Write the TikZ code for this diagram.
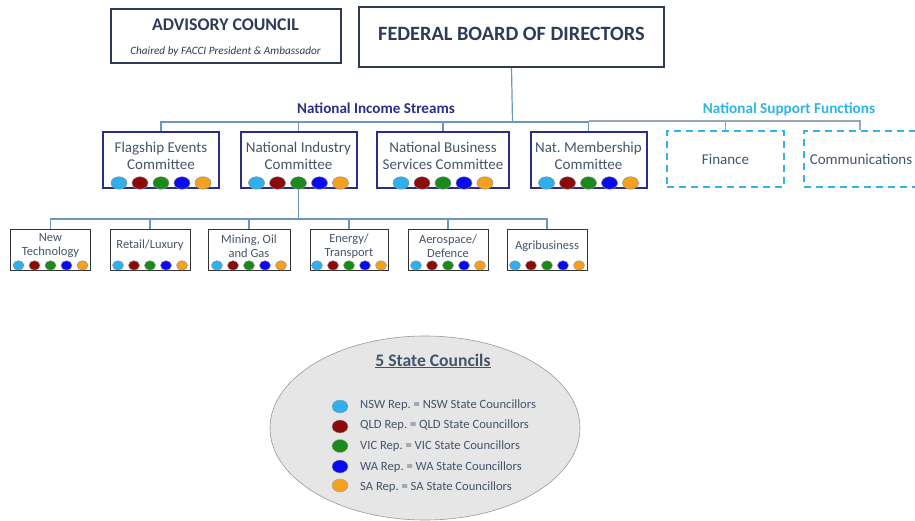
\documentclass[tikz,border=0pt]{standalone}
\usepackage{fontspec}
\setmainfont{Carlito}
\usetikzlibrary{shapes.geometric}
\definecolor{cnsw}{HTML}{2EB0EC}
\definecolor{cqld}{HTML}{8B0A0A}
\definecolor{cvic}{HTML}{1A8A1A}
\definecolor{cwa}{HTML}{0A0AF0}
\definecolor{csa}{HTML}{F5A01E}
\definecolor{navy}{HTML}{2A2E86}
\definecolor{slate}{HTML}{2E3A56}
\definecolor{txt}{HTML}{44546A}
\definecolor{linec}{HTML}{6C97BC}
\definecolor{grayline}{HTML}{9AA6B2}
\definecolor{supp}{HTML}{2EB4E6}
\definecolor{ellfill}{HTML}{E6E6E6}
\frenchspacing
\tikzset{
  topbox/.style={draw=slate, line width=2pt, inner sep=0pt, text=slate},
  combox/.style={draw=navy, line width=2pt, minimum width=116pt, minimum height=56pt, inner sep=0pt},
  comtext/.style={text=txt, font=\fontsize{15}{17}\selectfont, align=center, inner sep=0pt},
  suppbox/.style={draw=supp, line width=1.8pt, dash pattern=on 7pt off 5pt, minimum width=117pt, minimum height=56pt, inner sep=0pt, text=txt, font=\fontsize{15}{17}\selectfont},
  subbox/.style={draw=black!80, line width=0.9pt, minimum width=80pt, minimum height=41pt, inner sep=0pt},
  subtext/.style={text=txt, font=\fontsize{12.5}{14}\selectfont, align=center, inner sep=0pt},
  bigdot/.style={ellipse, draw=black!45, line width=0.5pt, minimum width=16pt, minimum height=12.5pt, inner sep=0pt},
  smalldot/.style={ellipse, draw=black!45, line width=0.4pt, minimum width=11pt, minimum height=9.5pt, inner sep=0pt},
  legdot/.style={ellipse, draw=black!35, line width=0.4pt, minimum width=16pt, minimum height=13pt, inner sep=0pt},
  conn/.style={draw=linec, line width=1.2pt},
  gconn/.style={draw=grayline, line width=1.2pt},
  legtext/.style={anchor=west, text=txt, font=\fontsize{12.6}{14}\selectfont, inner sep=0pt},
}
\newcommand{\reprow}[4]{%
  \foreach \cc [count=\ii] in {cnsw,cqld,cvic,cwa,csa} {%
    \node[#3, fill=\cc] (#1-d\ii) at ([shift={({(\ii-3)*#2},#4)}]#1.south) {};%
  }}
\begin{document}
\begin{tikzpicture}[x=1pt, y=-1pt]
\useasboundingbox (0,0) rectangle (915,521);
% top boxes
\node[topbox, minimum width=230pt, minimum height=54pt] (adv) at (225.5,36) {};
\node[font=\fontsize{17.8}{20}\bfseries, text=slate, inner sep=0pt] (advt) at (225.5,24.5) {ADVISORY COUNCIL};
\node[font=\fontsize{11.2}{13}\itshape\selectfont, text=slate, inner sep=0pt] (advs) at (225.5,52) {Chaired by FACCI President \& Ambassador};
\node[topbox, minimum width=305pt, minimum height=60pt] (fed) at (511.5,37) {};
\node[font=\fontsize{20.3}{23}\bfseries, text=slate, inner sep=0pt] (fedt) at (511.5,34) {FEDERAL BOARD OF DIRECTORS};
% headings
\node[font=\fontsize{15.1}{17}\bfseries, text=navy, inner sep=0pt] (inc) at (376,108) {National Income Streams};
\node[font=\fontsize{15.2}{17}\bfseries, text=supp, inner sep=0pt] (sup) at (789,109) {National Support Functions};
% committees
\node[combox] (flag) at (161,160) {};
\node[combox] (ind) at (298.5,160) {};
\node[combox, minimum width=132pt] (bus) at (443,160) {};
\node[combox] (mem) at (588.5,160) {};
\node[comtext] (flagt) at (161,156) {Flagship Events\\Committee};
\node[comtext] (indt) at (298.5,156) {National Industry\\Committee};
\node[comtext] (bust) at (443,156) {National Business\\Services Committee};
\node[comtext] (memt) at (588.5,156) {Nat. Membership\\Committee};
\node[suppbox] (fin) at (725.5,159) {Finance};
\node[suppbox, minimum width=112pt] (com) at (860,159) {\hspace*{2pt}Communications};
\reprow{flag}{21}{bigdot}{-6}
\reprow{ind}{21}{bigdot}{-6}
\reprow{bus}{21}{bigdot}{-6}
\reprow{mem}{21}{bigdot}{-6}
% bus lines
\coordinate (j0) at (512.5,122);
\draw[conn] (fed.south) -- (j0);
\draw[conn] (flag.north) |- (j0);
\draw[conn] (ind.north) |- (j0);
\draw[conn] (bus.north) |- (j0);
\draw[conn] (mem.north) |- (j0);
\draw[gconn] (mem.north) ++(0,-10) coordinate (j1) -- (j1 -| com.north) -- (com.north);
\draw[gconn] (j1 -| fin.north) -- (fin.north);
% sub committees
\node[subbox] (nt) at (50.5,249.5) {};
\node[subbox] (rl) at (150,249.5) {};
\node[subbox, minimum width=82pt] (mo) at (249,249.5) {};
\node[subbox, minimum width=78pt] (et) at (349,249.5) {};
\node[subbox] (ad) at (448,249.5) {};
\node[subbox] (ag) at (547,249.5) {};
\node[subtext] (ntt) at (50.5,246) {New\\Technology};
\node[subtext] (rlt) at (150,245) {Retail/Luxury};
\node[subtext] (mot) at (249,246) {Mining, Oil\\and Gas};
\node[subtext] (ett) at (349,246) {Energy/\\Transport};
\node[subtext] (adt) at (448,246) {Aerospace/\\Defence};
\node[subtext] (agt) at (547,246) {Agribusiness};
\foreach \n in {nt,rl,mo,et,ad,ag} {\reprow{\n}{16}{smalldot}{-5}}
\coordinate (j2) at (298.5,219);
\draw[conn] (ind.south) -- (j2);
\foreach \n in {nt,rl,mo,et,ad,ag} {\draw[conn] (\n.north) |- (j2);}
% state councils ellipse
\node[ellipse, draw=black!40, line width=0.6pt, fill=ellfill, minimum width=310pt, minimum height=184pt, inner sep=0pt] (ell) at (425,428) {};
\node[font=\fontsize{17.6}{20}\bfseries, text=txt, inner sep=0pt] (ttl) at (433,361) {\underline{5 State Councils}};
\node[legdot, fill=cnsw] (l1) at (340,406.5) {};
\node[legdot, fill=cqld] (l2) at (340,426.5) {};
\node[legdot, fill=cvic] (l3) at (340,446) {};
\node[legdot, fill=cwa] (l4) at (340,466.5) {};
\node[legdot, fill=csa] (l5) at (340,485.5) {};
\node[legtext] (t1) at (360,405) {NSW Rep. = NSW State Councillors};
\node[legtext] (t2) at (360,425) {QLD Rep. = QLD State Councillors};
\node[legtext] (t3) at (360,446) {VIC Rep. = VIC State Councillors};
\node[legtext] (t4) at (360,467) {WA Rep. = WA State Councillors};
\node[legtext] (t5) at (360,487) {SA Rep. = SA State Councillors};
\end{tikzpicture}
\end{document}
